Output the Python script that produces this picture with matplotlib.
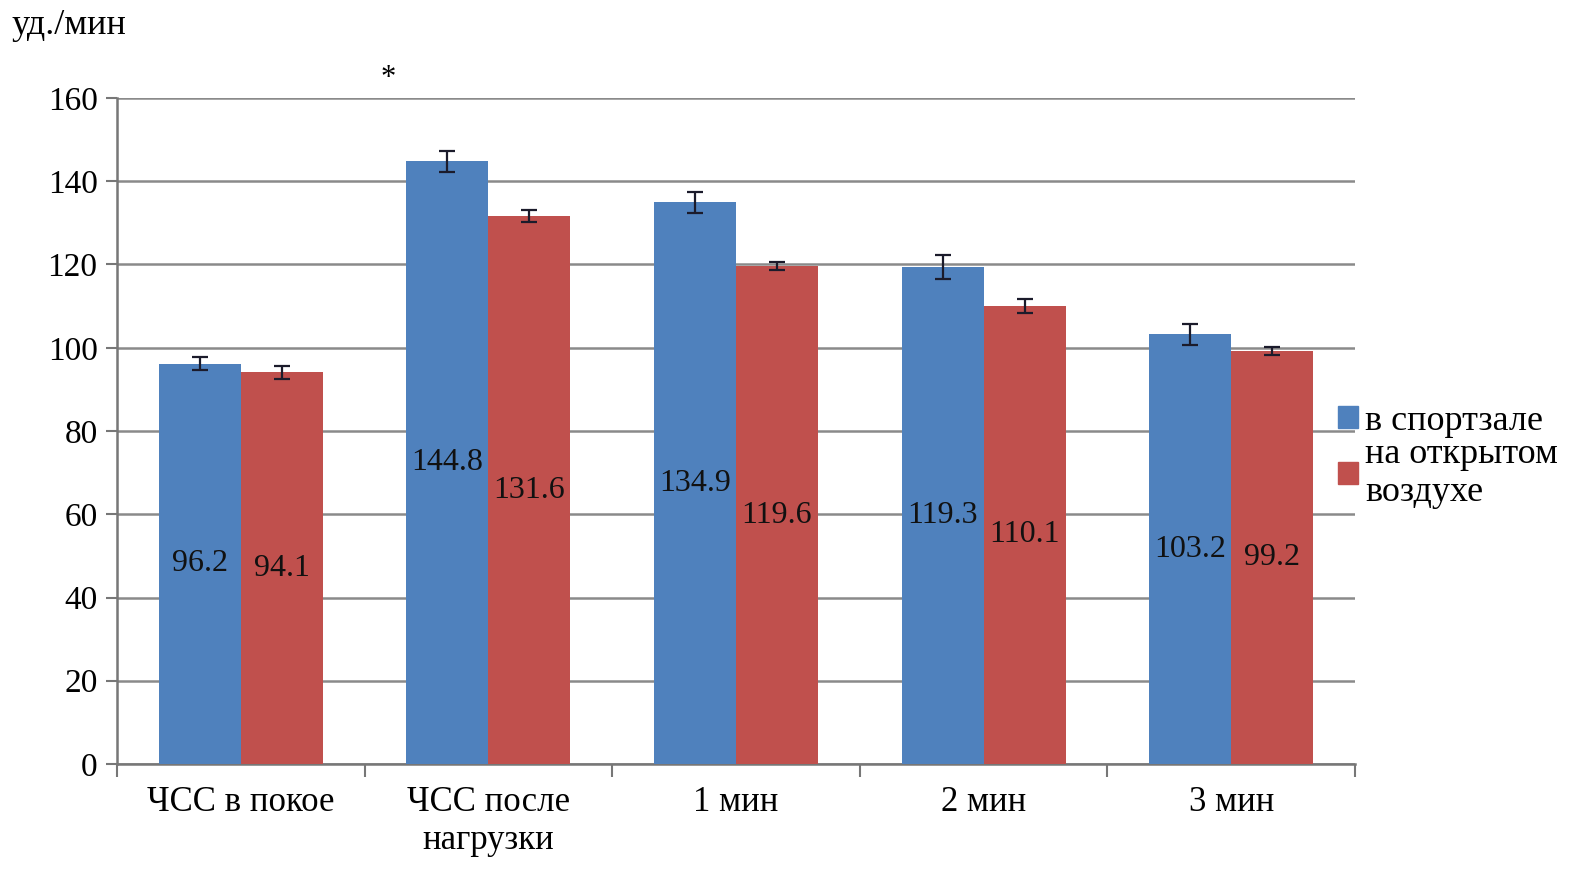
import matplotlib
matplotlib.use("Agg")
import matplotlib.pyplot as plt
import numpy as np
from matplotlib.patches import Patch

categories = ["ЧСС в покое", "ЧСС после\nнагрузки", "1 мин", "2 мин", "3 мин"]
series_names = ["в спортзале", "на открытом\nвоздухе"]
gym = [96.2, 144.8, 134.9, 119.3, 103.2]
outdoor = [94.1, 131.6, 119.6, 110.1, 99.2]
gym_err = [1.5, 2.5, 2.5, 2.9, 2.5]
outdoor_err = [1.5, 1.5, 1.0, 1.7, 1.0]
yticks = [0, 20, 40, 60, 80, 100, 120, 140, 160]

BLUE = "#4F81BD"
RED = "#C0504D"
FONT = ["Liberation Serif", "DejaVu Serif"]
plt.rcParams['font.family'] = FONT

fig = plt.figure(figsize=(15.94, 8.76), dpi=100)
ax = fig.add_axes([117/1594, 1-764/876, (1355-117)/1594, (764-98)/876])

x = np.arange(len(categories))
w = 0.331
ekw = dict(ecolor="#1b1b2b", elinewidth=1.6, capsize=6, capthick=1.6)
b1 = ax.bar(x - w/2, gym, w, color=BLUE, yerr=gym_err, error_kw=ekw, zorder=3)
b2 = ax.bar(x + w/2, outdoor, w, color=RED, yerr=outdoor_err, error_kw=ekw, zorder=3)

for bars, vals in ((b1, gym), (b2, outdoor)):
    for r, v in zip(bars, vals):
        ax.text(r.get_x() + r.get_width()/2, v/2, f"{v:.1f}", ha="center", va="center",
                fontsize=23, color="#111111", zorder=4)

ax.set_xlim(-0.5, len(categories) - 0.5)
ax.set_ylim(0, 160)
ax.set_yticks(yticks)
ax.set_yticklabels([str(t) for t in yticks], fontsize=24)
ax.yaxis.grid(True, color="#8a8a8a", linewidth=1.8, zorder=0)
ax.set_axisbelow(True)

ax.set_xticks(x)
ax.set_xticklabels(categories, fontsize=25, linespacing=1.2)
ax.set_xticks(np.arange(len(categories) + 1) - 0.5, minor=True)
ax.tick_params(axis="x", which="major", length=0, pad=16)
ax.tick_params(axis="x", which="minor", length=9, width=1.5, color="#777777", direction="out")
ax.tick_params(axis="y", length=8, width=1.5, color="#777777", direction="out", pad=6)

for s in ("top", "right"):
    ax.spines[s].set_visible(False)
for s in ("left", "bottom"):
    ax.spines[s].set_color("#777777")
    ax.spines[s].set_linewidth(1.8)

ax.text(0.594, 164.8, "*", ha="center", va="center", fontsize=22, clip_on=False)
fig.text(12/1594, 1-25/876, "уд./мин", ha="left", va="center", fontsize=26)

handles = [Patch(facecolor=BLUE, edgecolor=BLUE), Patch(facecolor=RED, edgecolor=RED)]
fig.legend(handles, series_names, loc="center left", bbox_to_anchor=(1338/1594, 1-457/876),
           frameon=False, fontsize=26, handlelength=0.55, handleheight=0.55,
           handletextpad=0.2, labelspacing=0.0, borderaxespad=0, borderpad=0)

fig.savefig("out.png", dpi=100)
